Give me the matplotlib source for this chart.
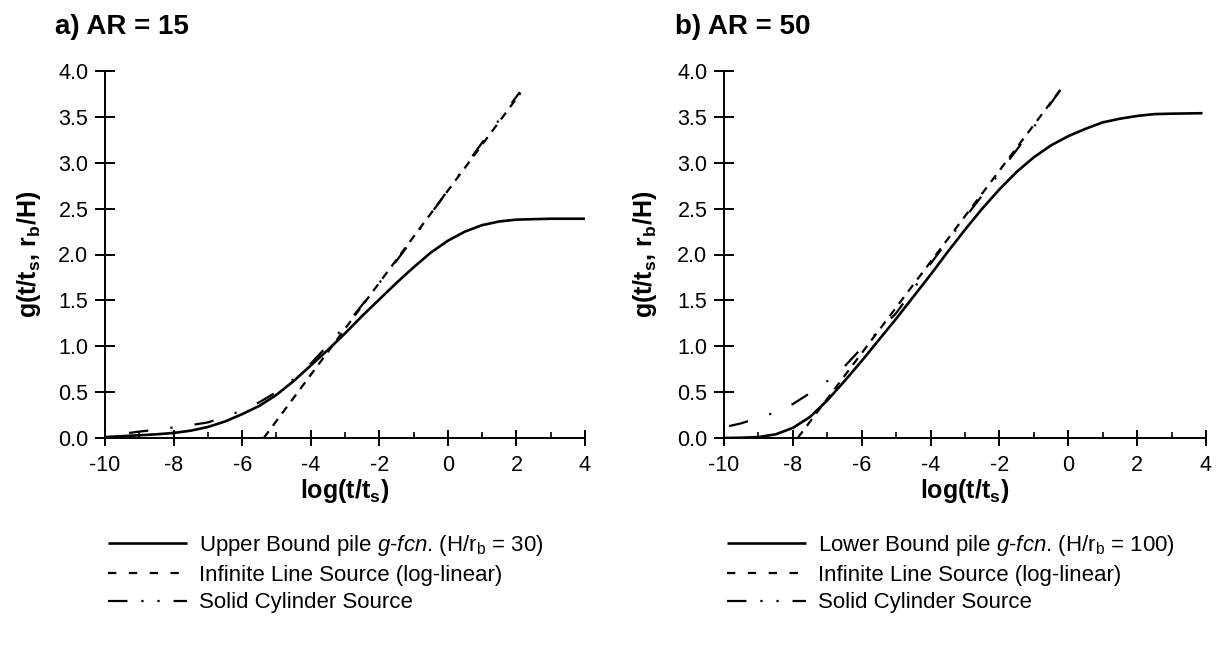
import matplotlib
matplotlib.use("Agg")
import matplotlib.pyplot as plt
from matplotlib.lines import Line2D
from matplotlib.ticker import MultipleLocator, FormatStrFormatter

plt.rcParams['font.family'] = ['Liberation Sans', 'DejaVu Sans']
plt.rcParams['mathtext.fontset'] = 'custom'
plt.rcParams['mathtext.rm'] = 'Liberation Sans'
plt.rcParams['mathtext.it'] = 'Liberation Sans:italic'
plt.rcParams['mathtext.bf'] = 'Liberation Sans:bold'
plt.rcParams['mathtext.default'] = 'regular'
plt.rcParams['axes.unicode_minus'] = False
plt.rcParams['lines.scale_dashes'] = False

# ---------------- data ----------------
# a) AR = 15
a_pile_x = [-10, -9.5, -9, -8.5, -8, -7.5, -7, -6.5, -6, -5.5, -5, -4.5, -4, -3.5, -3,
            -2.5, -2, -1.5, -1, -0.5, 0, 0.5, 1, 1.5, 2, 3, 4]
a_pile_y = [0.01, 0.02, 0.03, 0.04, 0.055, 0.08, 0.12, 0.18, 0.26, 0.35, 0.47, 0.62, 0.79,
            0.96, 1.14, 1.33, 1.51, 1.69, 1.86, 2.02, 2.15, 2.25, 2.32, 2.36, 2.38, 2.39, 2.39]
a_ils_x = [-5.37, 2.12]
a_ils_y = [0.0, 3.76]
a_scs_x = [-9.3, -9, -8.5, -8, -7.5, -7, -6.5, -6, -5.5, -5, -4.5, -4, -3.5, -3, -2.5, -2,
           -1.5, -1, 0, 1, 2.1]
a_scs_y = [0.055, 0.07, 0.09, 0.115, 0.14, 0.17, 0.23, 0.30, 0.39, 0.50, 0.64, 0.81, 1.01,
           1.22, 1.45, 1.69, 1.93, 2.18, 2.70, 3.22, 3.77]

# b) AR = 50
b_pile_x = [-10, -9.5, -9, -8.5, -8, -7.5, -7, -6.5, -6, -5.5, -5, -4.5, -4, -3.5, -3,
            -2.5, -2, -1.5, -1, -0.5, 0, 0.5, 1, 1.5, 2, 2.5, 3, 3.9]
b_pile_y = [0.0, 0.003, 0.01, 0.04, 0.11, 0.23, 0.41, 0.62, 0.84, 1.07, 1.30, 1.54, 1.78,
            2.03, 2.27, 2.50, 2.71, 2.90, 3.06, 3.19, 3.29, 3.37, 3.44, 3.48, 3.51, 3.53,
            3.535, 3.54]
b_ils_x = [-7.86, -0.12]
b_ils_y = [0.0, 3.85]
b_scs_x = [-9.85, -9.5, -9, -8.5, -8, -7.5, -7, -6.5, -6, -5.5, -5, -4.5, -4, -3, -2, -1, -0.12]
b_scs_y = [0.13, 0.16, 0.22, 0.28, 0.37, 0.49, 0.62, 0.78, 0.98, 1.17, 1.36, 1.62, 1.90,
           2.40, 2.89, 3.39, 3.85]

titles = ["a) AR = 15", "b) AR = 50"]
pile_labels = [r"Upper Bound pile $\it{g}$-$\it{fcn}$. (H/r$_b$ = 30)",
               r"Lower Bound pile $\it{g}$-$\it{fcn}$. (H/r$_b$ = 100)"]
ils_label = "Infinite Line Source (log-linear)"
scs_label = "Solid Cylinder Source"
x_ticks = [-10, -8, -6, -4, -2, 0, 2, 4]
y_ticks = [0.0, 0.5, 1.0, 1.5, 2.0, 2.5, 3.0, 3.5, 4.0]

# ---------------- figure ----------------
W, H = 1225, 646
fig = plt.figure(figsize=(W / 100, H / 100), dpi=100)

panels = [
    dict(left=105, right=585, pile=(a_pile_x, a_pile_y), ils=(a_ils_x, a_ils_y),
         scs=(a_scs_x, a_scs_y), title_x=55, leg_x=108, ylab_x=29),
    dict(left=724, right=1206, pile=(b_pile_x, b_pile_y), ils=(b_ils_x, b_ils_y),
         scs=(b_scs_x, b_scs_y), title_x=675, leg_x=727, ylab_x=645),
]
top_px, bot_px = 71, 438

solid_kw = dict(color='black', lw=1.9, solid_capstyle='butt')
dash_kw = dict(color='black', lw=1.6, linestyle=(0, (6, 5)))
dashdot_kw = dict(color='black', lw=1.6, linestyle=(0, (14, 16, 1.6, 16)))

for i, p in enumerate(panels):
    ax = fig.add_axes([p['left'] / W, 1 - bot_px / H, (p['right'] - p['left']) / W,
                       (bot_px - top_px) / H])
    ax.plot(*p['pile'], **solid_kw)
    ax.plot(*p['ils'], **dash_kw)
    ax.plot(*p['scs'], **dashdot_kw)
    ax.set_xlim(-10, 4)
    ax.set_ylim(0, 4)
    for s in ['top', 'right']:
        ax.spines[s].set_visible(False)
    for s in ['left', 'bottom']:
        ax.spines[s].set_linewidth(1.4)
    ax.set_xticks(x_ticks)
    ax.set_yticks(y_ticks)
    ax.xaxis.set_minor_locator(MultipleLocator(1))
    ax.yaxis.set_major_formatter(FormatStrFormatter('%.1f'))
    ax.tick_params(axis='y', which='major', direction='inout', length=14, width=1.4,
                   labelsize=15.5, pad=5)
    ax.tick_params(axis='x', which='major', direction='inout', length=12, width=1.4,
                   labelsize=15.5, pad=6)
    ax.tick_params(axis='x', which='minor', direction='in', length=4, width=1.2)
    ax.set_xlabel(r"log(t/t$_s$)", fontsize=18, fontweight='bold', labelpad=1)
    fig.text(p['ylab_x'] / W, 1 - (top_px + bot_px) / 2 / H, r"g(t/t$_s$, r$_b$/H)",
             rotation=90, fontsize=18, fontweight='bold', ha='center', va='center')
    fig.text(p['title_x'] / W, 1 - 27 / H, titles[i], fontsize=20, fontweight='bold',
             ha='left', va='center')

    handles = [
        Line2D([], [], **solid_kw),
        Line2D([], [], color='black', lw=1.6, linestyle=(0, (6, 9))),
        Line2D([], [], color='black', lw=1.6, linestyle=(0, (14, 10, 1.6, 10, 1.6, 10))),
    ]
    fig.legend(handles, [pile_labels[i], ils_label, scs_label],
               loc='upper left', bbox_to_anchor=(p['leg_x'] / W, 1 - 533 / H),
               frameon=False, fontsize=16, handlelength=3.55, handletextpad=0.55,
               labelspacing=0.3, borderaxespad=0, borderpad=0)

fig.savefig("out.png", dpi=100)
